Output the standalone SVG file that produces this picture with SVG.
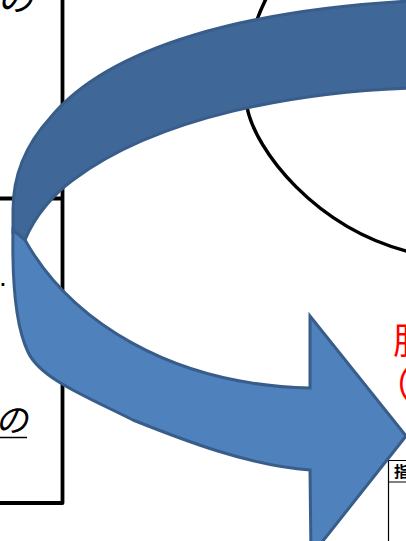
<svg xmlns="http://www.w3.org/2000/svg" width="406" height="541" viewBox="0 0 406 541">
<style>
.line{fill:none;stroke:#000;stroke-width:3.8;stroke-linejoin:round}
.jp{font-family:"Noto Sans CJK JP","Noto Sans",sans-serif}
.back{fill:#3F6797;stroke:#385D8A;stroke-width:3;stroke-linejoin:round}
.front{fill:#4F81BD;stroke:#385D8A;stroke-width:3;stroke-linejoin:miter}
.red{fill:#FF0000}
</style>
<rect width="406" height="541" fill="#fff"/>
<g id="left-box">
<path class="line" d="M62.5,-3 V503 H-3"/>
<path class="line" d="M-3,198.5 H62.5"/>
<text class="jp" x="-3" y="11" font-size="36" font-style="italic">の</text>
<text x="-1" y="286" font-family="Liberation Sans, sans-serif" font-size="28">.</text>
<text class="jp" x="-5" y="432" font-size="33" font-style="italic">の</text>
<line x1="-2" y1="437.5" x2="27" y2="437.5" stroke="#000" stroke-width="1.5"/>
</g>
<g id="ellipse">
<path d="M268,-5 C252,25 240,70 247,107 C255,150 315,228 410,252" fill="none" stroke="#000" stroke-width="3.5"/>
</g>
<g id="red-label" class="jp red">
<text x="393" y="354" font-size="36">服</text>
<text x="375" y="398" font-size="36">（</text>
</g>
<g id="table">
<path d="M388.5,541 V460.5 H406 M388.5,482 H406" stroke="#000" stroke-width="1.2" fill="none"/>
<text class="jp" x="394" y="477" font-size="15" font-weight="bold">指</text>
</g>
<g id="connectors">
<path class="back" d="M410,1 C250,10 110,45 50,118 C40,129 13,160 13,210 L13,234 L25,240 C35,215 55,193 73,180 C160,115 300,92 410,88 Z"/>
<path class="front" d="M13,230 C12,280 15,325 28,352 C40,378 83,395 133,420 C183,440 250,466 310,470 L311,556 L406,436 L310,316 L310,388 C170,385 70,320 25,240 Z"/>
</g>
</svg>
